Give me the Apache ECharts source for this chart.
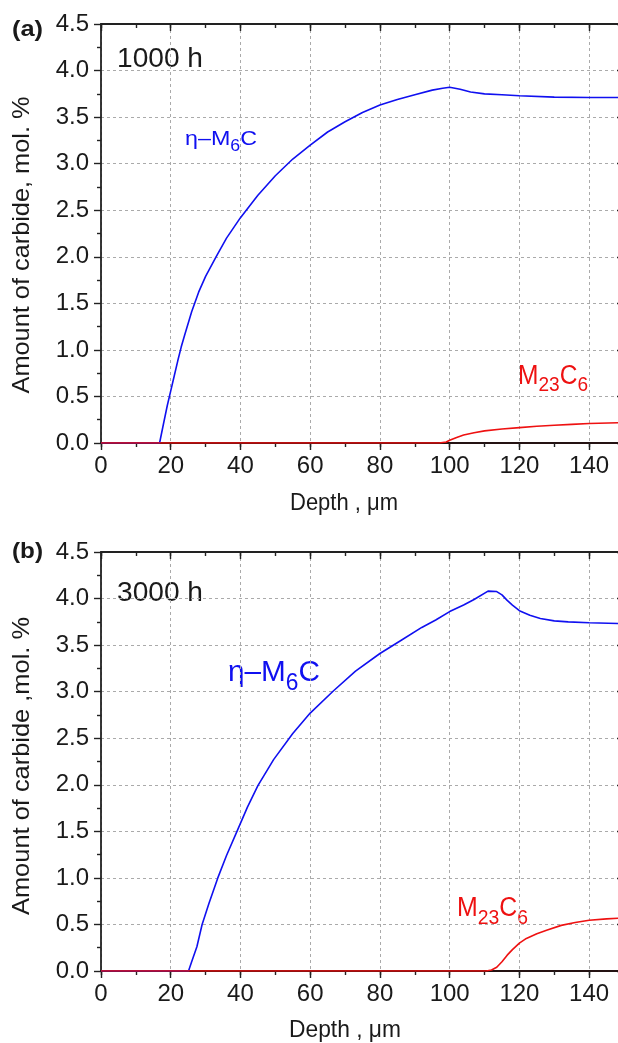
<!DOCTYPE html>
<html>
<head>
<meta charset="utf-8">
<script src="https://cdn.jsdelivr.net/npm/echarts@6/dist/echarts.min.js"></script>
<style>
  html, body { margin: 0; padding: 0; background: #ffffff; }
  #chart { width: 618px; height: 1043px; }
</style>
</head>
<body>
<div id="chart"></div>
<script>
// Carbide amount vs. depth after 1000 h and 3000 h exposure

// ---- (a) 1000 h ----
const etaDepth1000 = [0, 16.8, 18, 19, 20, 21, 22, 23, 24, 26, 28, 30, 33, 36, 40, 45, 50, 55, 60, 65, 70, 75, 80, 85, 90, 95, 98, 100, 103, 106, 110, 115, 120, 130, 140, 150];
const etaAmount1000 = [0, 0, 0.22, 0.40, 0.56, 0.72, 0.88, 1.03, 1.16, 1.41, 1.62, 1.79, 2.0, 2.2, 2.42, 2.66, 2.87, 3.05, 3.2, 3.34, 3.45, 3.55, 3.63, 3.69, 3.74, 3.79, 3.81, 3.82, 3.80, 3.77, 3.75, 3.74, 3.73, 3.715, 3.71, 3.71];
const m23Depth1000 = [0, 97, 99, 100, 102, 104, 107, 110, 115, 120, 125, 130, 135, 140, 150];
const m23Amount1000 = [0, 0, 0.01, 0.03, 0.06, 0.085, 0.11, 0.13, 0.15, 0.165, 0.18, 0.19, 0.2, 0.21, 0.22];

// ---- (b) 3000 h ----
const etaDepth3000 = [0, 25.1, 26, 27.5, 29, 31, 33.5, 36, 39, 42, 45, 49.5, 55, 60, 66.7, 73, 80, 86, 92, 96, 100, 104, 107, 111, 113.5, 115, 116.5, 118, 120, 123, 126, 130, 134, 140, 150];
const etaAmount3000 = [0, 0, 0.1, 0.26, 0.5, 0.73, 1.0, 1.24, 1.5, 1.76, 1.99, 2.27, 2.55, 2.77, 3.01, 3.22, 3.41, 3.55, 3.69, 3.77, 3.86, 3.93, 3.99, 4.08, 4.075, 4.04, 3.98, 3.93, 3.87, 3.82, 3.785, 3.76, 3.75, 3.74, 3.73];
const m23Depth3000 = [0, 110.5, 112, 113.5, 115, 116.5, 118, 120, 122, 125, 128, 132, 136, 140, 145, 150];
const m23Amount3000 = [0, 0, 0.01, 0.04, 0.1, 0.17, 0.23, 0.3, 0.35, 0.4, 0.44, 0.49, 0.52, 0.545, 0.56, 0.57];

// Axis ranges and texts
const depthRange = [0, 150];
const amountRange = [0, 4.5];
const panelTags = ['(a)', '(b)'];
const panelTimes = ['1000 h', '3000 h'];
const depthTitles = ['Depth , μm', 'Depth , μm'];
const amountTitles = ['Amount of carbide, mol. %', 'Amount of carbide ,mol. %'];

const FONT = '"Liberation Sans", Arial, Helvetica, sans-serif';
const BLUE = '#1010f0';
const RED = '#ee1111';
const INK = '#1a1a1a';

const zip = (xs, ys) => xs.map((x, i) => [x, ys[i]]);

const measureCtx = document.createElement('canvas').getContext('2d');
function measure(text, size, weight) {
  measureCtx.font = (weight || 'normal') + ' ' + size + 'px ' + FONT;
  return measureCtx.measureText(text).width;
}

// Text built from pieces, where flagged pieces are set as subscripts
function chem(parts, opt) {
  const size = opt.size;
  const subSize = Math.round(size * 0.76);
  let cx = 0;
  const kids = [];
  parts.forEach(([t, isSub]) => {
    const fs = isSub ? subSize : size;
    kids.push({
      type: 'text',
      x: cx,
      y: isSub ? size * 0.34 : 0,
      style: {
        text: t, fontSize: fs, fontFamily: FONT, fontWeight: opt.weight || 'normal',
        fill: opt.color || INK,
        align: 'left', verticalAlign: 'middle', textAlign: 'left', textVerticalAlign: 'middle'
      }
    });
    cx += measure(t, fs, opt.weight);
  });
  if (opt.center) kids.forEach(k => { k.x -= cx / 2; });
  return {
    type: 'group', x: opt.x, y: opt.y,
    scaleX: opt.width ? opt.width / cx : 1,
    rotation: opt.rotation || 0,
    silent: true,
    children: kids
  };
}

const axisLineStyle = { color: '#222', width: 1.8 };
const tickStyle = { color: '#222', width: 1.4 };
const labelFont = { fontSize: 24, color: INK, fontFamily: FONT };

function depthAxis(gridIndex, position, minor) {
  const bottom = position === 'bottom';
  const axis = {
    type: 'value', gridIndex, position,
    min: depthRange[0], max: depthRange[1], interval: minor ? 10 : 20,
    axisLine: { show: !minor, onZero: false, lineStyle: axisLineStyle },
    axisTick: { show: true, inside: !bottom, length: minor ? 4 : 7, lineStyle: tickStyle },
    axisLabel: Object.assign({ show: bottom && !minor, margin: 11, showMaxLabel: false }, labelFont),
    splitLine: { show: bottom && !minor, lineStyle: { type: [3, 3], color: '#aaaaaa', width: 1 } }
  };
  if (bottom && minor) {
    // translucent dark stroke over the zero line, so curves lying on it read as a dark tint
    axis.z = 3;
    axis.axisLine = { show: true, onZero: false, lineStyle: { color: 'rgba(40,0,0,0.45)', width: 1.8 } };
  }
  return axis;
}

function amountAxis(gridIndex, position) {
  const left = position === 'left';
  return {
    type: 'value', gridIndex, position,
    min: amountRange[0], max: amountRange[1], interval: 0.5,
    axisLine: { show: true, onZero: false, lineStyle: axisLineStyle },
    axisTick: { show: true, inside: !left, length: 7, lineStyle: tickStyle },
    minorTick: { show: true, splitNumber: 2, length: 4, lineStyle: tickStyle },
    axisLabel: Object.assign({ show: left, margin: 12, formatter: v => v.toFixed(1) }, labelFont),
    splitLine: { show: left, lineStyle: { type: [3, 3], color: '#aaaaaa', width: 1 } }
  };
}

// The frame runs a little past the right edge of the page, so the 150 µm border is off-screen
const grids = [
  { left: 101, top: 24, width: 523, height: 419, containLabel: false, outerBoundsMode: 'none' },
  { left: 101, top: 552, width: 523, height: 419, containLabel: false, outerBoundsMode: 'none' }
];

const xAxes = [];
const yAxes = [];
grids.forEach((g, i) => {
  xAxes.push(depthAxis(i, 'bottom', false), depthAxis(i, 'bottom', true),
             depthAxis(i, 'top', false), depthAxis(i, 'top', true));
  yAxes.push(amountAxis(i, 'left'), amountAxis(i, 'right'));
});

function curve(data, color, panel) {
  return {
    type: 'line', data, xAxisIndex: panel * 4, yAxisIndex: panel * 2,
    showSymbol: false, symbol: 'none', smooth: false, clip: true,
    lineStyle: { color, width: 1.6 }, itemStyle: { color },
    emphasis: { disabled: true }
  };
}

const series = [
  curve(zip(etaDepth1000, etaAmount1000), BLUE, 0),
  curve(zip(m23Depth1000, m23Amount1000), RED, 0),
  curve(zip(etaDepth3000, etaAmount3000), BLUE, 1),
  curve(zip(m23Depth3000, m23Amount3000), RED, 1)
];

const graphics = [
  // panel (a)
  chem([[panelTags[0]]], { x: 12, y: 30, size: 22, weight: 'bold', width: 31 }),
  chem([[panelTimes[0]]], { x: 117, y: 59, size: 28, width: 86 }),
  chem([['η–M'], ['6', 1], ['C']], { x: 185, y: 139.5, size: 21, color: BLUE, width: 72 }),
  chem([['M'], ['23', 1], ['C'], ['6', 1]], { x: 518, y: 376.5, size: 27, color: RED, width: 70 }),
  chem([[depthTitles[0]]], { x: 344, y: 503, center: true, size: 24, width: 108 }),
  chem([[amountTitles[0]]], { x: 22, y: 245, center: true, rotation: Math.PI / 2, size: 24, width: 297 }),
  // panel (b)
  chem([[panelTags[1]]], { x: 12, y: 552, size: 22, weight: 'bold', width: 31 }),
  chem([[panelTimes[1]]], { x: 117, y: 593, size: 28, width: 86 }),
  chem([['η–M'], ['6', 1], ['C']], { x: 228, y: 673, size: 30, color: BLUE, width: 92 }),
  chem([['M'], ['23', 1], ['C'], ['6', 1]], { x: 457, y: 909, size: 27, color: RED, width: 71 }),
  chem([[depthTitles[1]]], { x: 345, y: 1030, center: true, size: 24, width: 112 }),
  chem([[amountTitles[1]]], { x: 22, y: 766, center: true, rotation: Math.PI / 2, size: 24, width: 298 })
];

const chart = echarts.init(document.getElementById('chart'), null, { renderer: 'canvas' });
chart.setOption({
  animation: false,
  backgroundColor: '#ffffff',
  grid: grids,
  xAxis: xAxes,
  yAxis: yAxes,
  series,
  graphic: graphics
});
</script>
</body>
</html>
